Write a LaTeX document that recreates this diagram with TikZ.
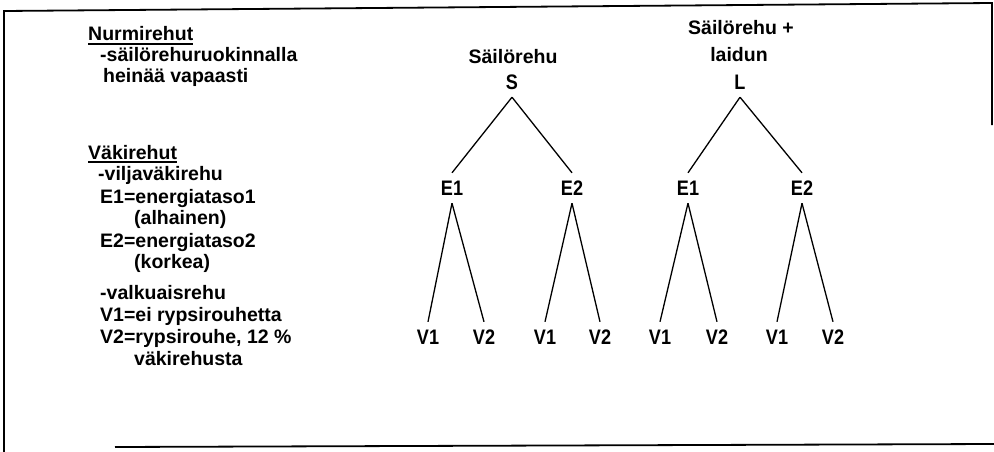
\documentclass[tikz,border=0pt]{standalone}
\usepackage{fontspec}
\setmainfont{Liberation Sans}
\newfontfamily\narrowfont[FakeStretch=0.86]{Liberation Sans}
\newcommand\ulbox[1]{\setbox0\hbox{#1}\rlap{\rule[-4pt]{\wd0}{1.8pt}}#1}
\begin{document}
\begin{tikzpicture}[x=1pt,y=-1pt,
  txt/.style={anchor=base west,inner sep=0pt,font=\bfseries\fontsize{19.5}{22}\selectfont},
  tnode/.style={inner xsep=1pt,inner ysep=0pt,minimum height=30pt,font=\narrowfont\bfseries\fontsize{21}{24}\selectfont},
  head/.style={inner sep=0pt,font=\bfseries\fontsize{19.5}{22}\selectfont},
  branch/.style={line width=1.3pt},
  frame/.style={line width=1.8pt}]
\useasboundingbox (0,0) rectangle (994,452);
% frame
\draw[frame] (4,452) -- (4,11) -- (992,3) -- (992,125);
\draw[frame] (115,447) -- (994,444);
% left legend
\node[txt] (n1) at (88,41) {\ulbox{Nurmirehut}};
\node[txt] (n2) at (100,62) {-säilörehuruokinnalla};
\node[txt] (n3) at (103,83) {heinää vapaasti};
\node[txt] (n4) at (88,159) {\ulbox{Väkirehut}};
\node[txt] (n5) at (98,180) {-viljaväkirehu};
\node[txt] (n6) at (100,203) {E1=energiataso1};
\node[txt] (n7) at (134,224) {(alhainen)};
\node[txt] (n8) at (100,247) {E2=energiataso2};
\node[txt] (n9) at (134,268) {(korkea)};
\node[txt] (n10) at (100,299) {-valkuaisrehu};
\node[txt] (n11) at (100,321) {V1=ei rypsirouhetta};
\node[txt] (n12) at (100,343) {V2=rypsirouhe, 12 \%};
\node[txt] (n13) at (134,365) {väkirehusta};
% left tree
\node[head] (sh) at (513,57) {Säilörehu};
\node[tnode] (S) at (512,82) {S};
\node[tnode] (sE1) at (452,188) {E1};
\node[tnode] (sE2) at (572,188) {E2};
\node[tnode] (sV11) at (428,337) {V1};
\node[tnode] (sV12) at (484,337) {V2};
\node[tnode] (sV21) at (545,337) {V1};
\node[tnode] (sV22) at (600,337) {V2};
% right tree
\node[head] (lh1) at (741,28) {Säilörehu +};
\node[head] (lh2) at (739,55) {laidun};
\node[tnode] (L) at (740,82) {L};
\node[tnode] (lE1) at (688,188) {E1};
\node[tnode] (lE2) at (802,188) {E2};
\node[tnode] (lV11) at (660,337) {V1};
\node[tnode] (lV12) at (717,337) {V2};
\node[tnode] (lV21) at (777,337) {V1};
\node[tnode] (lV22) at (833,337) {V2};
% branches
\draw[branch] (S.south) -- (sE1.north);
\draw[branch] (S.south) -- (sE2.north);
\draw[branch] (sE1.south) -- (sV11.north);
\draw[branch] (sE1.south) -- (sV12.north);
\draw[branch] (sE2.south) -- (sV21.north);
\draw[branch] (sE2.south) -- (sV22.north);
\draw[branch] (L.south) -- (lE1.north);
\draw[branch] (L.south) -- (lE2.north);
\draw[branch] (lE1.south) -- (lV11.north);
\draw[branch] (lE1.south) -- (lV12.north);
\draw[branch] (lE2.south) -- (lV21.north);
\draw[branch] (lE2.south) -- (lV22.north);
\end{tikzpicture}
\end{document}
